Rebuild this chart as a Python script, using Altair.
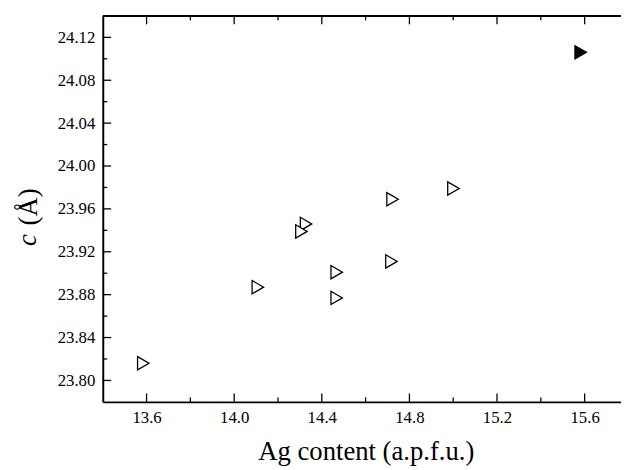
import altair as alt
import pandas as pd

# ---- data ----
ag_open = [13.585, 14.108, 14.468, 14.468, 14.328, 14.307, 14.723, 14.718, 15.001]
c_open = [23.816, 23.887, 23.901, 23.877, 23.946, 23.939, 23.969, 23.911, 23.979]
ag_filled = [15.582]
c_filled = [24.106]

x_major = [13.6, 14.0, 14.4, 14.8, 15.2, 15.6]
x_minor = [13.8, 14.2, 14.6, 15.0, 15.4]
y_major = [23.80, 23.84, 23.88, 23.92, 23.96, 24.00, 24.04, 24.08, 24.12]
y_minor = [23.82, 23.86, 23.90, 23.94, 23.98, 24.02, 24.06, 24.10]

x_title = "Ag content (a.p.f.u.)"
y_title_var = "c"
y_title_unit = "(Å)"

# ---- layout ----
W, H = 525, 391
x_domain = [13.4, 15.766]
y_domain = [23.78, 24.14]
FONT = "Liberation Serif"
TRI = "M-0.866,-1L0.866,0L-0.866,1Z"
MAJ, MIN = 8.5, 4.5
LFS = 17

xs = alt.Scale(domain=x_domain, nice=False, zero=False)
ys = alt.Scale(domain=y_domain, nice=False, zero=False)

x_axis = alt.Axis(
    values=x_major, format=".1f", ticks=False, grid=False,
    domain=True, domainColor="black", domainWidth=2,
    labelFont=FONT, labelFontSize=LFS, labelColor="black", labelPadding=8,
    title=x_title, titleFont=FONT, titleFontSize=27, titleFontWeight="normal",
    titleColor="black", titleX=266.5, titleY=58, titleAlign="center",
    titleBaseline="alphabetic",
)
y_axis = alt.Axis(
    values=y_major, format=".2f", ticks=False, grid=False,
    domain=True, domainColor="black", domainWidth=2,
    labelFont=FONT, labelFontSize=LFS, labelColor="black", labelPadding=8,
    title=y_title_unit, titleFont=FONT, titleFontSize=27, titleFontWeight="normal",
    titleColor="black", titleX=-67.5, titleY=193, titleAngle=270,
    titleAlign="center", titleBaseline="alphabetic",
)

df_open = pd.DataFrame({"ag": ag_open, "c": c_open})
df_fill = pd.DataFrame({"ag": ag_filled, "c": c_filled})

open_pts = alt.Chart(df_open).mark_point(
    shape=TRI, size=180, fill="white", stroke="black", strokeWidth=1.3,
    opacity=1, fillOpacity=1
).encode(
    x=alt.X("ag:Q", scale=xs, axis=x_axis),
    y=alt.Y("c:Q", scale=ys, axis=y_axis),
)

filled_pts = alt.Chart(df_fill).mark_point(
    shape=TRI, size=180, fill="black", stroke="black", strokeWidth=1.3,
    opacity=1, fillOpacity=1
).encode(
    x=alt.X("ag:Q", scale=xs, axis=x_axis),
    y=alt.Y("c:Q", scale=ys, axis=y_axis),
)

def yticks(vals, length):
    d = pd.DataFrame({"c": vals})
    return alt.Chart(d).mark_rule(color="black", strokeWidth=1.3).encode(
        y=alt.Y("c:Q", scale=ys, axis=y_axis),
        x=alt.value(0), x2=alt.value(length),
    )

def xticks(vals, length, top):
    d = pd.DataFrame({"ag": vals})
    if top:
        return alt.Chart(d).mark_rule(color="black", strokeWidth=1.3).encode(
            x=alt.X("ag:Q", scale=xs, axis=x_axis),
            y=alt.value(0), y2=alt.value(length),
        )
    return alt.Chart(d).mark_rule(color="black", strokeWidth=1.3).encode(
        x=alt.X("ag:Q", scale=xs, axis=x_axis),
        y=alt.value(H), y2=alt.value(H - length),
    )

top_line = alt.Chart(pd.DataFrame({"k": [0]})).mark_rule(
    color="black", strokeWidth=2
).encode(x=alt.value(0), x2=alt.value(W + 10), y=alt.value(0))

c_label = alt.Chart(pd.DataFrame({"t": [y_title_var]})).mark_text(
    font=FONT, fontSize=27, fontStyle="italic", angle=270,
    align="center", baseline="alphabetic", color="black"
).encode(text="t:N", x=alt.value(-67.5), y=alt.value(227))

chart = alt.layer(
    open_pts,
    yticks(y_major, MAJ), yticks(y_minor, MIN),
    xticks(x_major, MAJ, False), xticks(x_minor, MIN, False),
    xticks(x_major, MAJ, True), xticks(x_minor, MIN, True),
    top_line, filled_pts, c_label,
).properties(
    width=W, height=H,
    autosize=alt.AutoSizeParams(type="none"),
    padding={"left": 96, "top": 5, "right": 0, "bottom": 66},
).configure(
    font=FONT, background="white"
).configure_view(
    stroke="transparent"
)

chart.save("out.html", embed_options={"renderer": "svg", "actions": False})
